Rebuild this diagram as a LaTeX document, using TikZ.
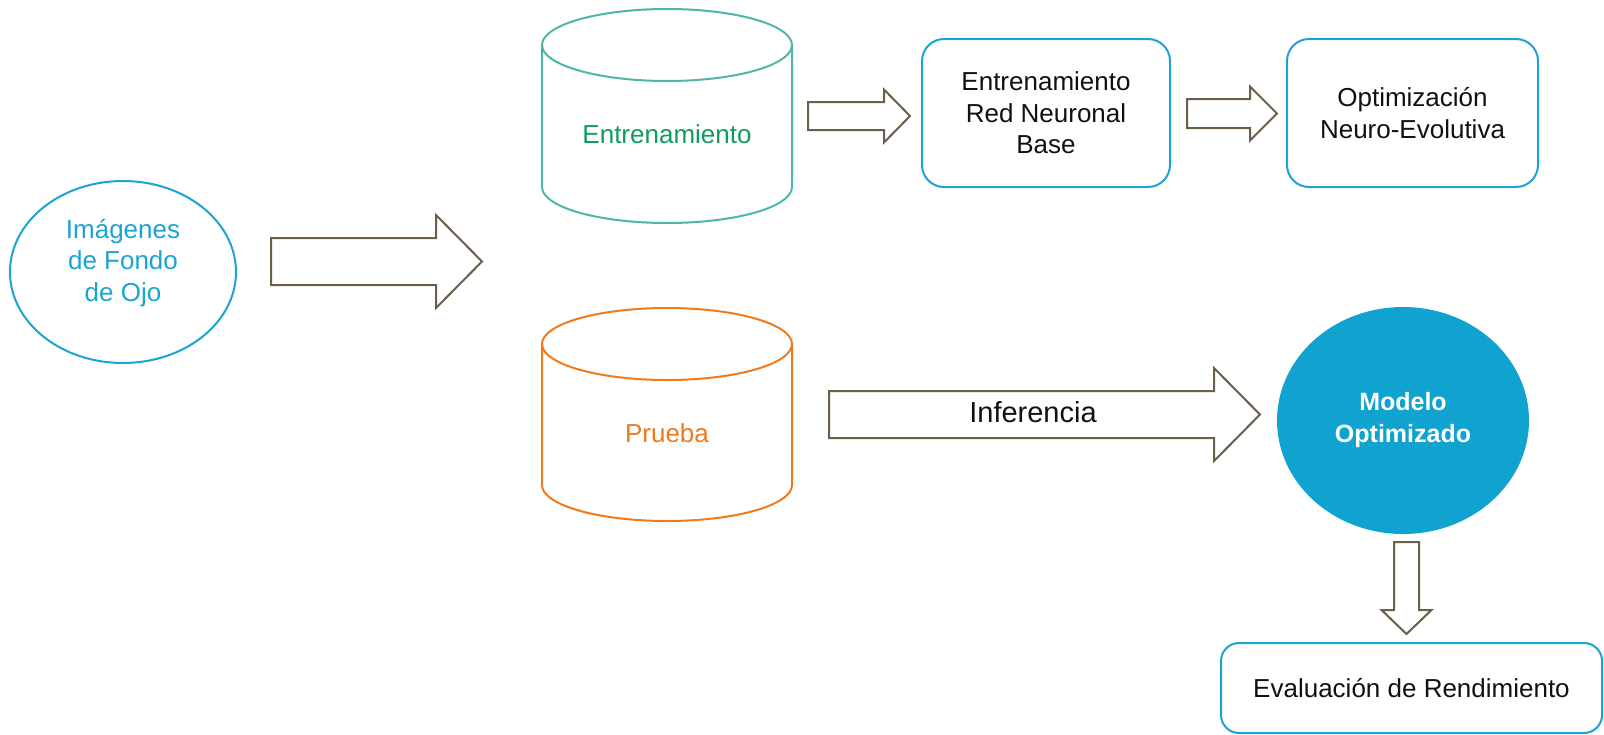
\documentclass[tikz,border=0pt]{standalone}
\usepackage{fontspec}
\setmainfont{Liberation Sans}
\usetikzlibrary{shapes.geometric}

\definecolor{cyanc}{HTML}{1BA3D3}
\definecolor{tealc}{HTML}{4DB6A6}
\definecolor{greent}{HTML}{109B62}
\definecolor{orangec}{HTML}{EF7A1C}
\definecolor{fillc}{HTML}{11A3CF}
\definecolor{arrowc}{HTML}{6B5E4A}
\definecolor{inkc}{HTML}{111111}

\tikzset{
  lbl/.style={font=\fontsize{26}{31.5}\selectfont, align=center, inner sep=0pt, text=inkc},
  outline/.style={line width=2pt},
  blockarrow/.style={draw=arrowc, fill=white, line width=2pt, line join=miter},
  roundbox/.style={draw=cyanc, line width=2pt, rounded corners=22pt,
    inner sep=0pt, align=center, font=\fontsize{26}{31.5}\selectfont, text=inkc},
}

% horizontal block arrow: tail x, centre y, head base x, tip x, shaft half width, head half width
\newcommand\rightblock[6]{%
  \draw[blockarrow] (#1,#2-#5) -- (#3,#2-#5) -- (#3,#2-#6) -- (#4,#2)
    -- (#3,#2+#6) -- (#3,#2+#5) -- (#1,#2+#5) -- cycle;}
% vertical block arrow: centre x, tail y, head base y, tip y, shaft half width, head half width
\newcommand\downblock[6]{%
  \draw[blockarrow] (#1-#5,#2) -- (#1-#5,#3) -- (#1-#6,#3) -- (#1,#4)
    -- (#1+#6,#3) -- (#1+#5,#3) -- (#1+#5,#2) -- cycle;}

\begin{document}
\begin{tikzpicture}[x=1pt, y=-1pt]
\useasboundingbox (0,0) rectangle (1604,734);

% source images
\node[ellipse, draw=cyanc, outline, minimum width=226pt, minimum height=182pt, inner sep=0pt] (img) at (123,272) {};
\node[lbl, text=cyanc] (imgtext) at (123,263) {Imágenes\\de Fondo\\de Ojo};

\rightblock{271}{261.5}{436}{482}{23.5}{46.5}

% training data store
\draw[draw=tealc, outline] (542,45) -- (542,187)
  arc[start angle=180, end angle=360, x radius=125pt, y radius=36pt] -- (792,45);
\draw[draw=tealc, outline] (667,45) ellipse [x radius=125pt, y radius=36pt];
\node[lbl, text=greent] (train) at (667,134) {Entrenamiento};

% test data store
\draw[draw=orangec, outline] (542,344) -- (542,485)
  arc[start angle=180, end angle=360, x radius=125pt, y radius=36pt] -- (792,344);
\draw[draw=orangec, outline] (667,344) ellipse [x radius=125pt, y radius=36pt];
\node[lbl, text=orangec] (test) at (667,433) {Prueba};

% training pipeline
\rightblock{808}{116}{884}{910}{14}{26.5}
\node[roundbox, minimum width=248pt, minimum height=148pt] (base) at (1046,113)
  {Entrenamiento\\Red Neuronal\\Base};
\rightblock{1187}{113.5}{1250}{1277}{14.5}{27}
\node[roundbox, minimum width=251pt, minimum height=148pt] (neuro) at (1412.5,113)
  {Optimización\\Neuro-Evolutiva};

% inference
\rightblock{829}{414.5}{1214}{1260}{23.5}{46.5}
\node[lbl, font=\fontsize{29}{34}\selectfont] (inf) at (1033,412) {Inferencia};

\node[ellipse, fill=fillc, minimum width=252pt, minimum height=227pt, inner sep=0pt,
  align=center, text=white, font=\fontsize{25}{32}\selectfont\bfseries] (model) at (1403,420.5)
  {Modelo\\Optimizado};

\downblock{1406.5}{542}{610}{634}{12.5}{25}

\node[roundbox, rounded corners=18pt, minimum width=381pt, minimum height=90pt] (eval) at (1411.5,688)
  {Evaluación de Rendimiento};
\end{tikzpicture}
\end{document}
